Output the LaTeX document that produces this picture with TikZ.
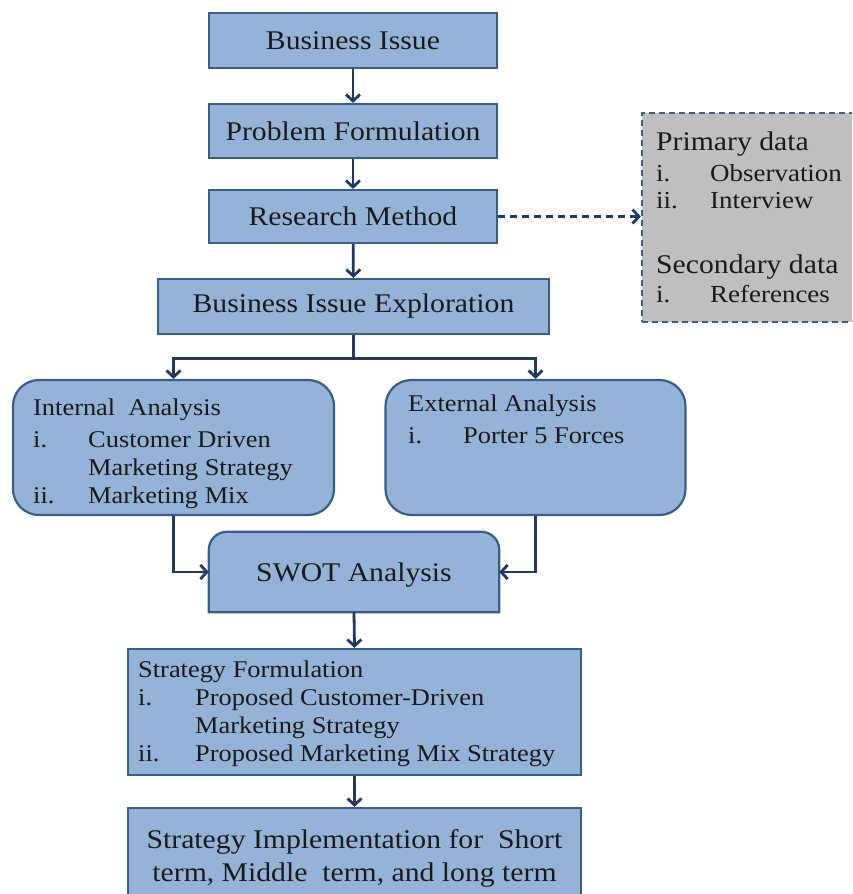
\documentclass[tikz,border=0pt]{standalone}
\usepackage{fontspec}
\setmainfont[FakeStretch=1.1]{Liberation Serif}
\usetikzlibrary{arrows.meta}
\definecolor{boxfill}{HTML}{95B3D7}
\definecolor{boxline}{HTML}{385D8A}
\definecolor{arrowcol}{HTML}{1F3864}
\definecolor{grayfill}{HTML}{BFBFBF}
\definecolor{txt}{HTML}{1A1A1A}
\begin{document}
\begin{tikzpicture}[x=1pt,y=1pt,
  box/.style={draw=boxline, fill=boxfill, line width=2.2pt, inner sep=0pt, text=txt, font=\fontsize{27}{30}\selectfont},
  rbox/.style={box, rounded corners=26pt},
  graybox/.style={draw=boxline, fill=grayfill, line width=2.2pt, dash pattern=on 6pt off 4pt, inner sep=0pt},
  conn/.style={draw=arrowcol, line width=2.8pt, -{Straight Barb[length=6.5pt,width=14pt,line width=2.8pt]}},
  dconn/.style={conn, dash pattern=on 7pt off 5pt},
  ttl/.style={font=\fontsize{27}{30}\selectfont, text=txt, inner sep=0pt},
  ltitle/.style={font=\fontsize{24}{28}\selectfont, text=txt, inner sep=0pt, anchor=base west},
  litem/.style={font=\fontsize{24}{28}\selectfont, text=txt, inner sep=0pt, anchor=base west},
  gtitle/.style={font=\fontsize{27}{30}\selectfont, text=txt, inner sep=0pt, anchor=base west},
  gitem/.style={font=\fontsize{24.5}{28}\selectfont, text=txt, inner sep=0pt, anchor=base west}
]
\useasboundingbox (0,0) rectangle (852,-894);
\clip (0,0) rectangle (852,-894);

% main boxes
\node[box, minimum width=288pt, minimum height=55pt] (bi) at (353,-40.5) {Business Issue};
\node[box, minimum width=288pt, minimum height=54pt] (pf) at (353,-131) {Problem Formulation};
\node[box, minimum width=288pt, minimum height=53pt] (rm) at (353,-216.5) {Research Method};
\node[box, minimum width=391pt, minimum height=55pt] (bie) at (353.5,-306.5) {Business Issue Exploration};

% gray data box (its right side runs past the picture edge)
\node[graybox, minimum width=232pt, minimum height=209pt] (gray) at (758,-217.5) {};
\node[gtitle] (pd) at (656,-150) {Primary data};
\node[gitem] (pd1n) at (656,-181) {i.};
\node[gitem] (pd1) at (710,-181) {Observation};
\node[gitem] (pd2n) at (656,-208) {ii.};
\node[gitem] (pd2) at (710,-208) {Interview};
\node[gtitle] (sd) at (656,-273) {Secondary data};
\node[gitem] (sd1n) at (656,-302) {i.};
\node[gitem] (sd1) at (710,-302) {References};

% internal / external analysis
\node[rbox, minimum width=321pt, minimum height=135pt] (ia) at (173.5,-447.5) {};
\node[ltitle] (iat) at (33,-415) {Internal\ \ Analysis};
\node[litem] (ia1n) at (33,-447) {i.};
\node[litem] (ia1) at (88,-447) {Customer Driven};
\node[litem] (ia1b) at (88,-475) {Marketing Strategy};
\node[litem] (ia2n) at (33,-503) {ii.};
\node[litem] (ia2) at (88,-503) {Marketing Mix};

\node[rbox, minimum width=300pt, minimum height=135pt] (ea) at (535.5,-447.5) {};
\node[ltitle] (eat) at (408,-411) {External Analysis};
\node[litem] (ea1n) at (408,-443) {i.};
\node[litem] (ea1) at (463,-443) {Porter 5 Forces};

% SWOT (top corners rounded)
\node[minimum width=290pt, minimum height=80pt, inner sep=0pt] (swot) at (354,-572) {};
\filldraw[draw=boxline, fill=boxfill, line width=2.2pt]
  (swot.south west) -- ([yshift=-18pt]swot.north west) arc[start angle=180, end angle=90, radius=18pt]
  -- ([xshift=-18pt]swot.north east) arc[start angle=90, end angle=0, radius=18pt]
  -- (swot.south east) -- cycle;
\node[ttl] (swott) at ([yshift=-3pt]swot.center) {SWOT Analysis};

% strategy formulation
\node[box, minimum width=453pt, minimum height=126pt] (sf) at (354.5,-712) {};
\node[ltitle] (sft) at (138,-677) {Strategy Formulation};
\node[litem] (sf1n) at (138,-705) {i.};
\node[litem] (sf1) at (195,-705) {Proposed Customer-Driven};
\node[litem] (sf1b) at (195,-733) {Marketing Strategy};
\node[litem] (sf2n) at (138,-761) {ii.};
\node[litem] (sf2) at (195,-761) {Proposed Marketing Mix Strategy};

% strategy implementation
\node[box, minimum width=453pt, minimum height=122pt] (si) at (354.5,-869) {};
\node[ttl, anchor=base] (si1) at (354.5,-848) {Strategy Implementation for\ \ Short};
\node[ttl, anchor=base] (si2) at (354.5,-881) {term, Middle\ \ term, and long term};

% connectors
\draw[conn] (bi) -- (pf);
\draw[conn] (pf) -- (rm);
\draw[conn] (rm) -- (bie);
\draw[dconn] (rm.east) -- (rm.east -| gray.west);
\draw[conn] (bie.south) -- ++(0,-23) -| (ia.north);
\draw[conn] (bie.south) -- ++(0,-23) -| (ea.north);
\draw[conn] (ia.south) |- (swot.west);
\draw[conn] (ea.south) |- (swot.east);
\draw[conn] (swot.south) -- (sf.north);
\draw[conn] (sf.south) -- (si.north);
\end{tikzpicture}
\end{document}
